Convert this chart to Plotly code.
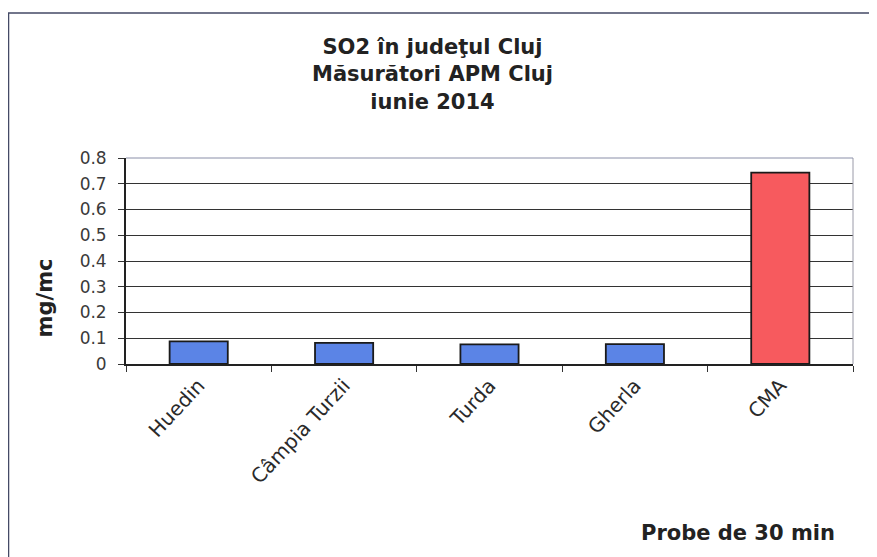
import plotly.graph_objects as go

categories = ["Huedin", "Câmpia Turzii", "Turda", "Gherla", "CMA"]
values = [0.088, 0.082, 0.076, 0.077, 0.743]
bar_colors = ["#5B84E6", "#5B84E6", "#5B84E6", "#5B84E6", "#F75A5E"]
y_ticks = [0, 0.1, 0.2, 0.3, 0.4, 0.5, 0.6, 0.7, 0.8]
y_tick_labels = ["0", "0.1", "0.2", "0.3", "0.4", "0.5", "0.6", "0.7", "0.8"]
title_lines = ["SO2 în judeţul Cluj", "Măsurători APM Cluj", "iunie 2014"]
y_title = "mg/mc"
x_note = "Probe de 30 min"

FONT = "DejaVu Sans, Liberation Sans, Arial, sans-serif"

fig = go.Figure()
fig.add_trace(go.Bar(
    x=categories, y=values, width=0.4,
    marker=dict(color=bar_colors, line=dict(color="#1a1a1a", width=1.8)),
    showlegend=False,
))

fig.update_layout(
    width=869, height=549,
    margin=dict(l=118, r=24, t=150, b=193),
    paper_bgcolor="white", plot_bgcolor="white",
    font=dict(family=FONT, color="#222"),
    xaxis=dict(
        type="category", tickangle=-47, tickfont=dict(size=20, family=FONT, color="#2a2a2a"),
        ticks="outside", tickson="boundaries", ticklen=6, tickcolor="#333",
        showline=True, linecolor="#222", linewidth=1.8, showgrid=False,
    ),
    yaxis=dict(
        range=[0, 0.8], tickvals=y_ticks, ticktext=y_tick_labels,
        tickfont=dict(size=17, family=FONT, color="#3a3a3a"),
        ticks="outside", ticklen=6, tickcolor="#333", ticklabelstandoff=8,
        showline=True, linecolor="#222", linewidth=1.8,
        showgrid=True, gridcolor="#333333", gridwidth=1.2, zeroline=False,
    ),
    annotations=[
        dict(text="<br>".join(title_lines), x=0.421, y=1.403, xref="paper", yref="paper",
             xanchor="center", yanchor="middle", showarrow=False,
             font=dict(size=21, family=FONT, color="#222", weight="bold")),
        dict(text=y_title, x=-0.111, y=0.32, xref="paper", yref="paper", textangle=-90,
             xanchor="center", yanchor="middle", showarrow=False,
             font=dict(size=21, family=FONT, color="#222", weight="bold")),
        dict(text=x_note, x=0.842, y=-0.82, xref="paper", yref="paper",
             xanchor="center", yanchor="middle", showarrow=False,
             font=dict(size=21, family=FONT, color="#222", weight="bold")),
    ],
    shapes=[
        dict(type="rect", xref="paper", yref="paper", x0=-0.1616, x1=1.2, y0=-1.2, y1=1.704,
             line=dict(color="#444a66", width=1.5), layer="below"),
        dict(type="line", xref="paper", yref="paper", x0=1, x1=1, y0=0, y1=1,
             line=dict(color="#9a9aa8", width=1)),
        dict(type="line", xref="paper", yref="paper", x0=0, x1=1, y0=1, y1=1,
             line=dict(color="#8a8fa8", width=1)),
    ],
)

fig.write_html("out.html")
